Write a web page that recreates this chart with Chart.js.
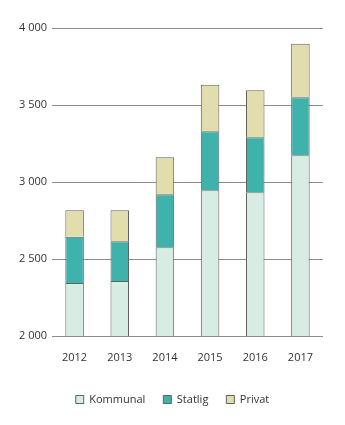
<!DOCTYPE html>
<html>
<head>
<meta charset="utf-8">
<script src="https://cdn.jsdelivr.net/npm/chart.js@4/dist/chart.umd.min.js"></script>
<style>
  html, body { margin: 0; padding: 0; background: #fff; }
  #wrap { width: 345px; height: 425px; }
</style>
</head>
<body>
<div id="wrap"><canvas id="chart" width="345" height="425"></canvas></div>
<script>
const years = ['2012', '2013', '2014', '2015', '2016', '2017'];
const kommunal = [2344, 2357, 2577, 2947, 2934, 3174];
const statlig = [300, 259, 344, 383, 357, 376];
const privat = [173, 201, 240, 302, 305, 348];
const yTicks = [2000, 2500, 3000, 3500, 4000];

const edge = '#5f635f';

function fmt(v) {
    // norsk tusenskille med mellomrom
    return String(v).replace(/\B(?=(\d{3})+(?!\d))/g, ' ');
}

// flytter forklaringen litt mot høyre, som i originalen
const legendShift = {
    id: 'legendShift',
    afterLayout(chart) {
        if (chart.legend) {
            chart.legend.left += 11;
            chart.legend.right += 11;
        }
    }
};

Chart.defaults.font.family = '"Open Sans", sans-serif';
Chart.defaults.font.size = 11;
Chart.defaults.color = '#333';

const ctx = document.getElementById('chart').getContext('2d');
const chart = new Chart(ctx, {
    type: 'bar',
    data: {
        labels: years,
        datasets: [
            { label: 'Kommunal', data: kommunal, backgroundColor: '#d7ece2', borderColor: edge, borderWidth: 1 },
            { label: 'Statlig', data: statlig, backgroundColor: '#3fb2ac', borderColor: edge, borderWidth: 1 },
            { label: 'Privat', data: privat, backgroundColor: '#e2ddad', borderColor: edge, borderWidth: 1 }
        ]
    },
    plugins: [legendShift],
    options: {
        responsive: false,
        animation: false,
        barPercentage: 0.41,
        categoryPercentage: 1,
        layout: { padding: { top: 28, right: 22, left: 0, bottom: 10 } },
        plugins: {
            tooltip: { enabled: false },
            legend: {
                position: 'bottom',
                labels: {
                    boxWidth: 8,
                    boxHeight: 8,
                    padding: 18,
                    color: '#333',
                    font: { size: 11 }
                }
            }
        },
        scales: {
            x: {
                stacked: true,
                grid: { display: false },
                border: { display: false },
                ticks: { padding: 7, color: '#333' },
                afterFit: function(scale) { scale.height = 40; }
            },
            y: {
                stacked: true,
                min: 2000,
                max: 4000,
                afterBuildTicks: function(scale) {
                    scale.ticks = yTicks.map(v => ({ value: v }));
                },
                grid: { color: '#8c8c8c', lineWidth: 1, drawTicks: false },
                border: { display: false },
                ticks: { padding: 5, color: '#333', callback: v => fmt(v) },
                afterFit: function(scale) { scale.width = 52; }
            }
        }
    }
});
</script>
</body>
</html>
